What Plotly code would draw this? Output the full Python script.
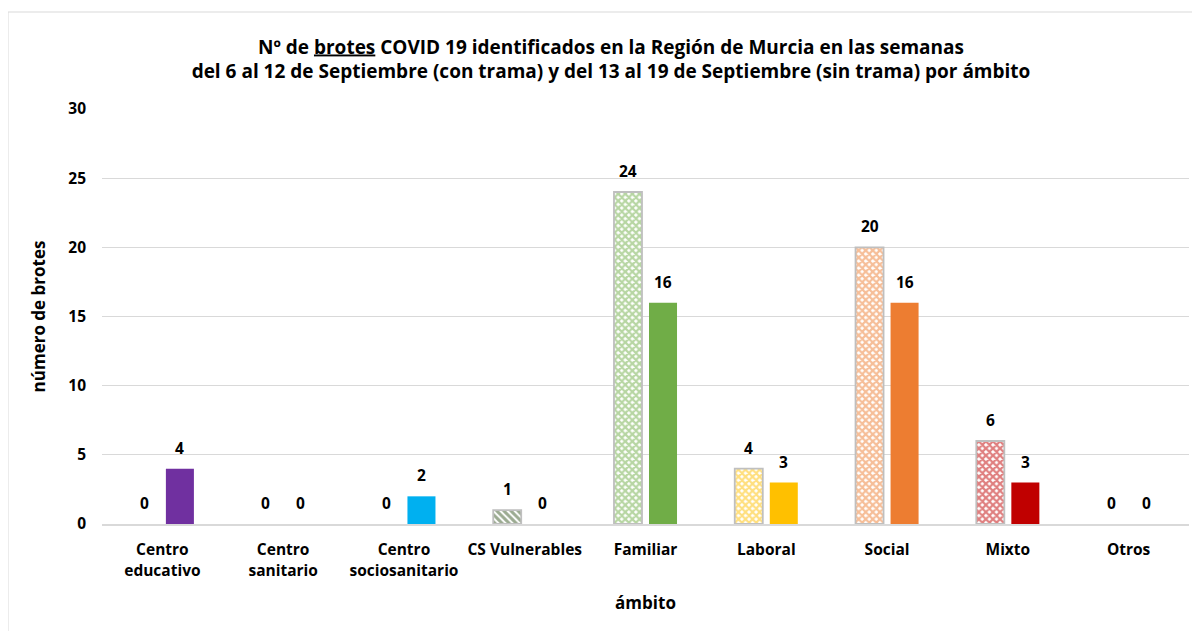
import plotly.graph_objects as go

categories = ["Centro<br>educativo", "Centro<br>sanitario", "Centro<br>sociosanitario", "CS Vulnerables",
              "Familiar", "Laboral", "Social", "Mixto", "Otros"]
semana_6_12 = [0, 0, 0, 1, 24, 4, 20, 6, 0]
semana_13_19 = [4, 0, 2, 0, 16, 3, 16, 3, 0]
colors = ["#7030a0", "#7f7f7f", "#00b0f0", "#375623", "#70ad47", "#ffc000", "#ed7d31", "#c00000", "#7f7f7f"]
shapes = ["x", "x", "x", "\\", "x", "x", "x", "x", "x"]

FONT = "Open Sans, sans-serif"
W, H = 1192, 623          # the page adds an 8px body margin
L, R, T, B = 94, 11, 101, 107
PW, PH = W - L - R, H - T - B

fig = go.Figure()
fig.add_trace(go.Bar(
    x=categories, y=semana_6_12,
    marker=dict(
        color="white",
        line=dict(color="#bfbfbf", width=[1.8 if v > 0 else 0 for v in semana_6_12]),
        pattern=dict(shape=shapes, fgcolor=colors, bgcolor="white", size=5,
                     solidity=[0.6 if s == "\\" else 0.7 for s in shapes], fillmode="overlay"),
    ),
    name="6-12 Sept",
))
fig.add_trace(go.Bar(
    x=categories, y=semana_13_19,
    marker=dict(color=colors, line=dict(width=0)),
    name="13-19 Sept",
))

annotations = []
for vals, shift in ((semana_6_12, -17.5), (semana_13_19, 17.5)):
    for c, v in zip(categories, vals):
        annotations.append(dict(x=c, y=v, xref="x", yref="y", text=f"<b>{v}</b>", showarrow=False,
                                xshift=shift, yanchor="bottom", yshift=8,
                                font=dict(size=15.5, family=FONT, color="#000000")))

fig.update_layout(
    width=W, height=H,
    margin=dict(l=L, r=R, t=T, b=B, autoexpand=False),
    paper_bgcolor="white", plot_bgcolor="white",
    showlegend=False,
    barmode="group", bargap=0.42, bargroupgap=0.2,
    font=dict(family=FONT, color="#000000"),
    annotations=annotations,
    title=dict(
        text="<b>Nº de <u>brotes</u> COVID 19 identificados en la Región de Murcia en las semanas<br>"
             "del 6 al 12 de Septiembre (con trama) y del 13 al 19 de Septiembre (sin trama) por ámbito</b>",
        x=603 / W, xanchor="center", y=1 - 45.5 / H, yanchor="middle",
        font=dict(size=19, family=FONT, color="#000000"), automargin=False,
    ),
    shapes=[dict(type="rect", xref="paper", yref="paper",
                 x0=(0 - L) / PW, x1=(1191 - L) / PW, y0=-(B + 2) / PH, y1=1 + (T - 4) / PH,
                 line=dict(color="#d9d9d9", width=1), fillcolor="rgba(0,0,0,0)", layer="below")],
)
fig.update_yaxes(range=[0, 30], dtick=5, showgrid=True, gridcolor="#d9d9d9", gridwidth=1,
                 zeroline=False, showline=False, ticks="", ticklabelstandoff=15, automargin=False,
                 tickfont=dict(size=15.5, family=FONT, weight="bold"),
                 title=dict(text="<b>número de brotes</b>", font=dict(size=17, family=FONT), standoff=18))
fig.update_xaxes(showline=True, linecolor="#d9d9d9", linewidth=1.5, ticks="", automargin=False,
                 ticklabelstandoff=11,
                 tickfont=dict(size=15.5, family=FONT, weight="bold"),
                 title=dict(text="<b>ámbito</b>", font=dict(size=17, family=FONT), standoff=18))

fig.write_html("out.html")
